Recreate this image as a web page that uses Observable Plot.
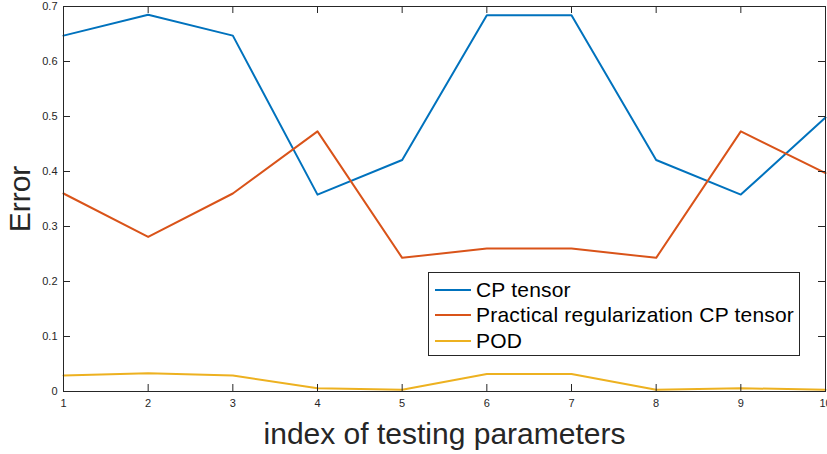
<!DOCTYPE html>
<html>
<head>
<meta charset="utf-8">
<script src="https://cdn.jsdelivr.net/npm/d3@7"></script>
<script src="https://cdn.jsdelivr.net/npm/@observablehq/plot@0.6"></script>
<style>
  html, body { margin: 0; padding: 0; background: #fff; }
  #wrap { position: relative; width: 827px; height: 454px; font-family: "Liberation Sans", Arial, Helvetica, sans-serif; }
  #legend { position: absolute; left: 428px; top: 272px; width: 370px; height: 82px; border: 1px solid #262626; background: #fff; box-sizing: content-box; }
  .row { position: absolute; left: 0; height: 24px; display: flex; align-items: center; font-size: 21px; letter-spacing: 0.2px; color: #000; white-space: nowrap; }
  .sw { display: inline-block; width: 36px; height: 2px; margin-left: 6px; margin-right: 5px; }
</style>
</head>
<body>
<div id="wrap"><div id="chart"></div><div id="legend"></div></div>
<script>
const indices = [1, 2, 3, 4, 5, 6, 7, 8, 9, 10];
const cpTensor = [0.647, 0.685, 0.647, 0.358, 0.421, 0.684, 0.684, 0.421, 0.358, 0.498];
const practicalCP = [0.360, 0.281, 0.360, 0.473, 0.243, 0.260, 0.260, 0.243, 0.473, 0.397];
const pod = [0.029, 0.033, 0.029, 0.006, 0.003, 0.032, 0.032, 0.003, 0.006, 0.003];
const seriesNames = ["CP tensor", "Practical regularization CP tensor", "POD"];
const seriesColors = ["#0072BD", "#D95319", "#EDB120"];
const xTicks = [1, 2, 3, 4, 5, 6, 7, 8, 9, 10];
const yTicks = [0, 0.1, 0.2, 0.3, 0.4, 0.5, 0.6, 0.7];
const xLabel = "index of testing parameters";
const yLabel = "Error";

const allSeries = [cpTensor, practicalCP, pod];
const rows = [];
allSeries.forEach((vals, s) => vals.forEach((v, i) => rows.push({series: seriesNames[s], x: indices[i], y: v})));

const W = 827, H = 454, mL = 63, mR = 2, mT = 6, mB = 63;
const innerH = H - mT - mB, innerW = W - mL - mR;
const tickLen = 7;
const axisColor = "#262626";

const chart = Plot.plot({
  width: W, height: H,
  marginLeft: mL, marginRight: mR, marginTop: mT, marginBottom: mB,
  style: {fontFamily: '"Liberation Sans", Arial, Helvetica, sans-serif', color: axisColor, background: "#fff", overflow: "visible"},
  x: {domain: [1, 10]},
  y: {domain: [0, 0.7]},
  color: {domain: seriesNames, range: seriesColors},
  marks: [
    Plot.line(rows, {x: "x", y: "y", z: "series", stroke: "series", strokeWidth: 2}),
    Plot.tickX(xTicks, {x: d => d, insetTop: innerH - tickLen, stroke: axisColor}),
    Plot.tickX(xTicks, {x: d => d, insetBottom: innerH - tickLen, stroke: axisColor}),
    Plot.tickY(yTicks, {y: d => d, insetRight: innerW - tickLen, stroke: axisColor}),
    Plot.tickY(yTicks, {y: d => d, insetLeft: innerW - tickLen, stroke: axisColor}),
    Plot.frame({stroke: axisColor, strokeWidth: 1}),
    Plot.axisX({ticks: xTicks, tickSize: 0, tickPadding: 8, fontSize: 11, label: null, tickFormat: d => String(d)}),
    Plot.axisY({ticks: yTicks, tickSize: 0, tickPadding: 6, fontSize: 11, label: null, tickFormat: d => String(d)}),
    Plot.text([yLabel], {frameAnchor: "left", dx: -43, rotate: -90, fontSize: 30, fill: axisColor, textAnchor: "middle", lineAnchor: "middle"}),
    Plot.text([xLabel], {frameAnchor: "bottom", dy: 43, fontSize: 30, fill: axisColor, textAnchor: "middle", lineAnchor: "middle"})
  ]
});
document.getElementById("chart").appendChild(chart);

const legend = document.getElementById("legend");
const rowTops = [5, 30, 56];
seriesNames.forEach((name, i) => {
  const r = document.createElement("div");
  r.className = "row";
  r.style.top = rowTops[i] + "px";
  const sw = document.createElement("span");
  sw.className = "sw";
  sw.style.background = seriesColors[i];
  const t = document.createElement("span");
  t.textContent = name;
  r.appendChild(sw); r.appendChild(t);
  legend.appendChild(r);
});
</script>
</body>
</html>
